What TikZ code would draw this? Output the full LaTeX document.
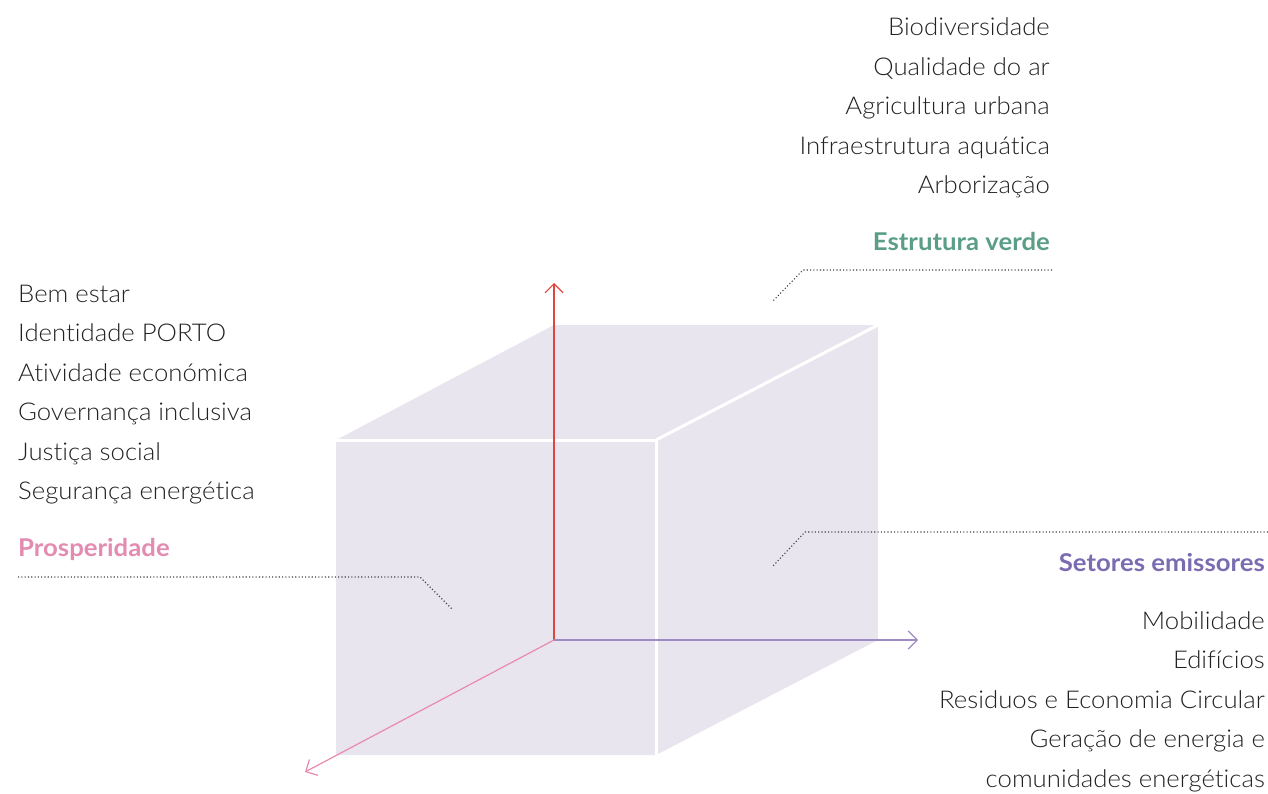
\documentclass[tikz,border=0pt]{standalone}
\usepackage{fontspec}
\setmainfont{Lato}[UprightFont={* Light}, BoldFont={* Bold}, FakeStretch=1.05, Ligatures={NoCommon}]
\usetikzlibrary{arrows.meta}
\definecolor{cubefill}{HTML}{E8E5EF}
\definecolor{verde}{HTML}{5A9E86}
\definecolor{rosa}{HTML}{E38BB0}
\definecolor{roxo}{HTML}{7B6BB0}
\definecolor{axred}{HTML}{E0463E}
\definecolor{axpurple}{HTML}{9D8CC4}
\definecolor{axpink}{HTML}{E88AAF}
\definecolor{txt}{HTML}{222222}
\begin{document}
\begin{tikzpicture}[x=1pt,y=-1pt,
  item/.style={inner sep=0pt, text=txt, font=\fontsize{24.5}{28}\selectfont},
  head/.style={inner sep=0pt, font=\fontsize{24.5}{28}\selectfont\bfseries},
  leader/.style={draw=black!75, line width=1.1pt, dash pattern=on 1.1pt off 2.2pt},
  axis/.style={line width=1.2pt, -{Straight Barb[length=9pt,width=18pt]}},
  edge/.style={draw=white, line width=3pt}]
\useasboundingbox (0,0) rectangle (1268,794);
% cube corners
\coordinate (O) at (554,640);
\coordinate (BT) at (554,325);
\coordinate (BR) at (878,325);
\coordinate (BRB) at (878,640);
\coordinate (FTL) at (336,440);
\coordinate (FTR) at (656,440);
\coordinate (FBR) at (656,755);
\coordinate (FBL) at (336,755);
% faces
\fill[cubefill] (FTL) -- (BT) -- (BR) -- (BRB) -- (FBR) -- (FBL) -- cycle;
\draw[edge] (FTL) -- (FTR) -- (FBR);
\draw[edge] (FTR) -- (BR);
% axes
\coordinate (Ytip) at (554,283);
\coordinate (Xtip) at (918,640);
\coordinate (Ztip) at (305,772);
\draw[axis, axred] (O) -- (Ytip);
\draw[axis, axpurple] (O) -- (Xtip);
\draw[axis, axpink] (O) -- (Ztip);
% leader lines
\coordinate (gA) at (1052,270);
\coordinate (gB) at (803,270);
\coordinate (gC) at (772,302);
\draw[leader] (gA) -- (gB) -- (gC);
\coordinate (sA) at (1268,532);
\coordinate (sB) at (805,532);
\coordinate (sC) at (773,566);
\draw[leader] (sA) -- (sB) -- (sC);
\coordinate (pA) at (18,577);
\coordinate (pB) at (420,577);
\coordinate (pC) at (452,609);
\draw[leader] (pA) -- (pB) -- (pC);
% top list
\node[item, anchor=base east] (t1) at (1050,36) {Biodiversidade};
\node[item, anchor=base east] (t2) at (1050,75.5) {Qualidade do ar};
\node[item, anchor=base east] (t3) at (1050,115) {Agricultura urbana};
\node[item, anchor=base east] (t4) at (1050,154.5) {Infraestrutura aquática};
\node[item, anchor=base east] (t5) at (1050,194) {Arborização};
\node[head, anchor=base east, text=verde] (th) at (1050,251) {Estrutura verde};
% left list
\node[item, anchor=base west] (l1) at (18,302) {Bem estar};
\node[item, anchor=base west] (l2) at (18,341.5) {Identidade PORTO};
\node[item, anchor=base west] (l3) at (18,381) {Atividade económica};
\node[item, anchor=base west] (l4) at (18,420.5) {Governança inclusiva};
\node[item, anchor=base west] (l5) at (18,460) {Justiça social};
\node[item, anchor=base west] (l6) at (18,499.5) {Segurança energética};
\node[head, anchor=base west, text=rosa] (lh) at (18,556) {Prosperidade};
% right list
\node[head, anchor=base east, text=roxo] (rh) at (1265,571) {Setores emissores};
\node[item, anchor=base east] (r1) at (1265,629) {Mobilidade};
\node[item, anchor=base east] (r2) at (1265,668.5) {Edifícios};
\node[item, anchor=base east] (r3) at (1265,708) {Residuos e Economia Circular};
\node[item, anchor=base east] (r4) at (1265,747.5) {Geração de energia e};
\node[item, anchor=base east] (r5) at (1265,787) {comunidades energéticas};
\end{tikzpicture}
\end{document}
